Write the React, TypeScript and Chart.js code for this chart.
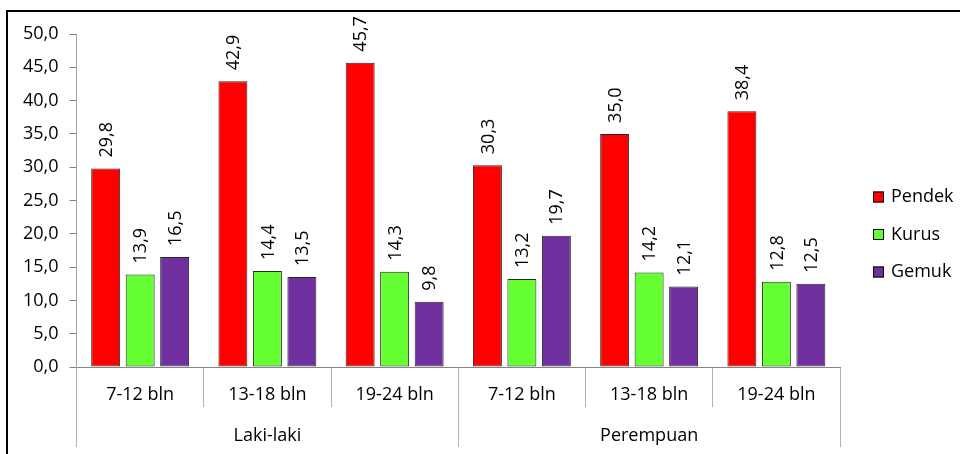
import React, { useEffect, useRef } from "react";
import { Chart, registerables } from "chart.js";

Chart.register(...registerables);

const categories = ["7-12 bln", "13-18 bln", "19-24 bln", "7-12 bln", "13-18 bln", "19-24 bln"];
const groups = ["Laki-laki", "Perempuan"];
const pendek = [29.8, 42.9, 45.7, 30.3, 35.0, 38.4];
const kurus = [13.9, 14.4, 14.3, 13.2, 14.2, 12.8];
const gemuk = [16.5, 13.5, 9.8, 19.7, 12.1, 12.5];
const seriesNames = ["Pendek", "Kurus", "Gemuk"];
const seriesColors = ["#FF0000", "#66FF33", "#7030A0"];

const FONT = '"Open Sans", sans-serif';
const fmt = (v: number) => v.toFixed(1).replace(".", ",");

const labelPlugin = {
  id: "barLabels",
  afterDatasetsDraw(chart: any) {
    const ctx = chart.ctx;
    chart.data.datasets.forEach((ds: any, i: number) => {
      const meta = chart.getDatasetMeta(i);
      meta.data.forEach((bar: any, j: number) => {
        const v = ds.data[j];
        ctx.save();
        ctx.translate(bar.x + 1, bar.y - 11);
        ctx.rotate(-Math.PI / 2);
        ctx.font = `18px ${FONT}`;
        ctx.fillStyle = "#000";
        ctx.textAlign = "left";
        ctx.textBaseline = "middle";
        ctx.fillText(fmt(v), 0, 0);
        ctx.restore();
      });
    });
  },
};

const legendPlugin = {
  id: "sideLegend",
  afterDraw(chart: any) {
    const ctx = chart.ctx;
    const area = chart.chartArea;
    const x0 = area.right + 33;
    const y0 = area.top + 163;
    chart.data.datasets.forEach((ds: any, i: number) => {
      const cy = y0 + i * 37.5;
      ctx.save();
      ctx.fillStyle = ds.backgroundColor;
      ctx.fillRect(x0, cy - 5.5, 11, 11);
      ctx.strokeStyle = "#000";
      ctx.lineWidth = 1;
      ctx.strokeRect(x0 + 0.5, cy - 5, 10, 10);
      ctx.font = `18px ${FONT}`;
      ctx.fillStyle = "#000";
      ctx.textAlign = "left";
      ctx.textBaseline = "middle";
      ctx.fillText(ds.label, x0 + 18, cy);
      ctx.restore();
    });
  },
};

export default function App() {
  const ref = useRef<HTMLCanvasElement | null>(null);
  useEffect(() => {
    if (!ref.current) return;
    const series = [pendek, kurus, gemuk];
    const chart = new Chart(ref.current, {
      type: "bar",
      data: {
        labels: categories,
        datasets: series.map((d, i) => ({
          label: seriesNames[i],
          data: d,
          backgroundColor: seriesColors[i],
          borderColor: "rgba(0,0,0,0.85)",
          borderWidth: 1,
          borderSkipped: false,
          categoryPercentage: 0.813,
          barPercentage: 0.84,
        })),
      },
      options: {
        responsive: false,
        animation: false,
        devicePixelRatio: 1,
        layout: { padding: { left: 12, right: 120, top: 34, bottom: 7 } },
        plugins: { legend: { display: false }, tooltip: { enabled: false } },
        scales: {
          x: {
            type: "category",
            position: "bottom",
            offset: true,
            grid: { display: true, offset: true, drawOnChartArea: false, tickLength: 40, color: "#b3b3b3" },
            border: { display: true, color: "#868686" },
            ticks: { font: { family: FONT, size: 18 }, color: "#000", padding: -23, maxRotation: 0, autoSkip: false },
            afterFit: (s: any) => { s.height = 40; },
          },
          x2: {
            type: "category",
            position: "bottom",
            labels: groups,
            offset: true,
            grid: { display: true, offset: true, drawOnChartArea: false, tickLength: 40, color: "#b3b3b3" },
            border: { display: false },
            ticks: { font: { family: FONT, size: 18 }, color: "#000", padding: -22, maxRotation: 0, autoSkip: false },
            afterFit: (s: any) => { s.height = 40; },
          },
          y: {
            min: 0,
            max: 50,
            ticks: {
              stepSize: 5,
              font: { family: FONT, size: 18 },
              color: "#000",
              padding: 11,
              callback: (v: any) => fmt(Number(v)),
            },
            grid: { display: true, drawOnChartArea: false, tickLength: 7, color: "#808080" },
            border: { display: true, color: "#a6a6a6" },
          },
        },
      },
      plugins: [labelPlugin, legendPlugin],
    });
    return () => chart.destroy();
  }, []);

  return (
    <div style={{ position: "fixed", left: 0, top: 0, width: 960, height: 454, background: "#fff", overflow: "hidden" }}>
      <div style={{ position: "absolute", left: 6, top: 10, width: 2000, height: 2000, border: "2px solid #000" }} />
      <canvas ref={ref} width={960} height={454} style={{ position: "absolute", left: 0, top: 0 }} />
    </div>
  );
}
